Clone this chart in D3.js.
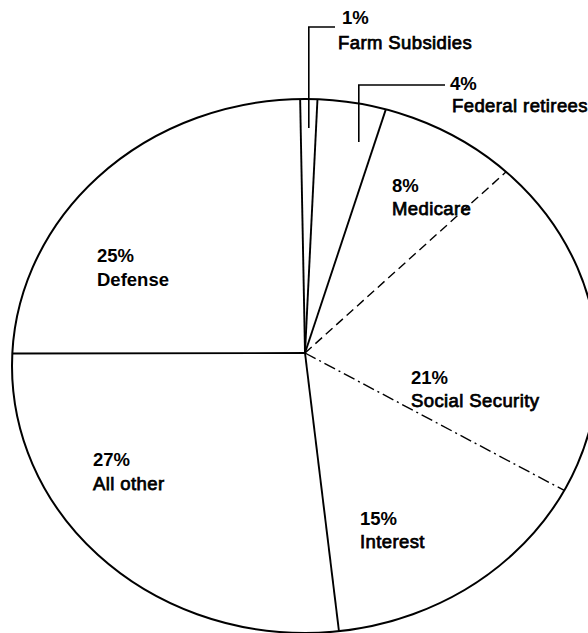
<!DOCTYPE html>
<html><head><meta charset="utf-8">
<script src="https://cdn.jsdelivr.net/npm/d3@7"></script>
<style>
html,body{margin:0;padding:0;background:#fff;}
svg{display:block;}
text{font-family:"Liberation Sans",Arial,sans-serif;fill:#000;}
</style></head>
<body><svg id="c" width="588" height="633"></svg>
<script>
// ---- data ----
const categories = ["Farm Subsidies","Federal retirees","Medicare","Social Security","Interest","All other","Defense"];
const values = [1,4,8,21,15,27,25];
const pctLabels = ["1%","4%","8%","21%","15%","27%","25%"];

// ---- layout ----
const ell={cx:305,cy:366,rx:293,ry:267};
const hub={x:305,y:353};
const startDeg=-1;
const spokeDash=[null,null,null,"9,5","12,4,2,4",null,null];
const labelPos=[
  {x:342,y:24,nx:338,ny:49},
  {x:450,y:90,nx:452,ny:112},
  {x:392,y:192,nx:392,ny:215},
  {x:411,y:384,nx:411,ny:407},
  {x:360,y:525,nx:360,ny:548},
  {x:93,y:466,nx:93,ny:490},
  {x:97,y:262,nx:97,ny:286}
];
const fs=18.5;

const svg=d3.select("#c");
const pie=d3.pie().sort(null).value(d=>d)
  .startAngle(startDeg*Math.PI/180).endAngle(startDeg*Math.PI/180+2*Math.PI);
const arcs=pie(values);

// point where the ray from the hub (pie angle a, stretched to the ellipse) meets the outline
function rim(a){
  const dx=ell.rx*Math.sin(a), dy=-ell.ry*Math.cos(a);
  const ox=(hub.x-ell.cx)/ell.rx, oy=(hub.y-ell.cy)/ell.ry;
  const ux=dx/ell.rx, uy=dy/ell.ry;
  const A=ux*ux+uy*uy, B=2*(ox*ux+oy*uy), C=ox*ox+oy*oy-1;
  const t=(-B+Math.sqrt(B*B-4*A*C))/(2*A);
  return [hub.x+dx*t, hub.y+dy*t];
}

svg.append("ellipse").attr("cx",ell.cx).attr("cy",ell.cy).attr("rx",ell.rx).attr("ry",ell.ry)
  .attr("fill","none").attr("stroke","#000").attr("stroke-width",2);

svg.selectAll("line.spoke").data(arcs).join("line").attr("class","spoke")
  .attr("x1",hub.x).attr("y1",hub.y)
  .attr("x2",d=>rim(d.startAngle)[0]).attr("y2",d=>rim(d.startAngle)[1])
  .attr("stroke","#000").attr("stroke-width",(d,i)=>spokeDash[i]?1.4:1.9)
  .attr("stroke-dasharray",(d,i)=>spokeDash[i]);

function leader(i,frac,topY,bottomY,endX){
  const a=arcs[i].startAngle+(arcs[i].endAngle-arcs[i].startAngle)*frac;
  const x=rim(a)[0];
  svg.append("path").attr("d",`M${x},${bottomY}V${topY}H${endX}`)
    .attr("fill","none").attr("stroke","#000").attr("stroke-width",1.6);
}
leader(0,0.5,27,128,335);
leader(1,0.6,85,142,445);

const g=svg.append("g");
categories.forEach((c,i)=>{
  const p=labelPos[i];
  g.append("text").attr("x",p.x).attr("y",p.y).attr("font-size",fs).attr("font-weight","bold").text(pctLabels[i]);
  g.append("text").attr("x",p.nx).attr("y",p.ny).attr("font-size",fs)
    .attr("font-weight",c==="Defense"?"bold":"normal")
    .attr("letter-spacing",c==="Defense"?0:0.4)
    .attr("stroke","#000").attr("stroke-width",c==="Defense"?0:0.75).text(c);
});
</script></body></html>
